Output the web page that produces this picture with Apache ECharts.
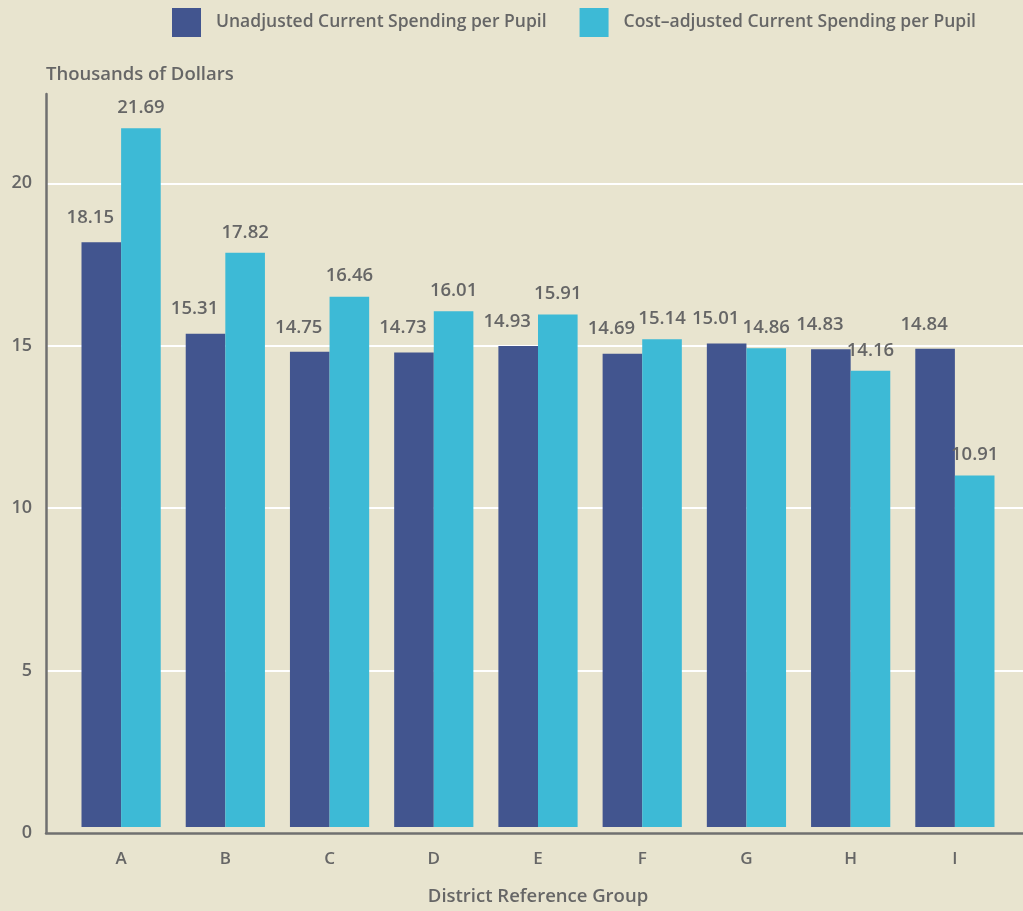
<!DOCTYPE html>
<html>
<head>
<meta charset="utf-8">
<script src="https://cdn.jsdelivr.net/npm/echarts@6/dist/echarts.min.js"></script>
<style>
html,body{margin:0;padding:0;background:#e8e4cf;}
#chart{width:1023px;height:911px;}
</style>
</head>
<body>
<div id="chart"></div>
<script>
const categories = ['A','B','C','D','E','F','G','H','I'];
const unadjusted = [18.15, 15.31, 14.75, 14.73, 14.93, 14.69, 15.01, 14.83, 14.84];
const costAdjusted = [21.69, 17.82, 16.46, 16.01, 15.91, 15.14, 14.86, 14.16, 10.91];
const yTicks = [0, 5, 10, 15, 20];
const seriesNames = ['Unadjusted Current Spending per Pupil', 'Cost\u2013adjusted Current Spending per Pupil'];

const FONT = '"Open Sans", "Noto Sans", sans-serif';
const TXT = '#666666';
const YMAX = 22.75;

const chart = echarts.init(document.getElementById('chart'), null, {renderer: 'canvas'});
chart.setOption({
  backgroundColor: '#e8e4cf',
  animation: false,
  textStyle: {fontFamily: FONT},
  title: {
    text: 'Thousands of Dollars',
    left: 41, top: 60,
    textStyle: {fontFamily: FONT, fontSize: 18.5, fontWeight: 600, color: TXT}
  },
  legend: {
    left: 172, top: 8, padding: 0,
    itemWidth: 29, itemHeight: 29, itemGap: 33,
    icon: 'rect',
    textStyle: {fontFamily: FONT, fontSize: 17.5, fontWeight: 600, color: TXT, padding: [4, 0, 0, 10]},
    data: seriesNames
  },
  grid: [
    {left: 46, right: 0, top: 94, bottom: 78},
    {left: 69, right: 16, top: 94, bottom: 78}
  ],
  xAxis: [
    {
      type: 'category', gridIndex: 0, data: categories,
      axisLine: {show: true, lineStyle: {color: '#707070', width: 2.5}},
      axisTick: {show: false}, axisLabel: {show: false}, splitLine: {show: false}
    },
    {
      type: 'category', gridIndex: 1, data: categories,
      axisLine: {show: false}, axisTick: {show: false},
      axisLabel: {fontFamily: FONT, fontSize: 17, fontWeight: 600, color: TXT, margin: 24},
      name: 'District Reference Group', nameLocation: 'middle', nameGap: 60,
      nameTextStyle: {fontFamily: FONT, fontSize: 18.5, fontWeight: 600, color: TXT}
    }
  ],
  yAxis: [
    {
      type: 'value', gridIndex: 0, min: 0, max: YMAX, interval: 5,
      axisLine: {show: true, lineStyle: {color: '#707070', width: 2.5}},
      axisTick: {show: false},
      axisLabel: {
        fontFamily: FONT, fontSize: 18, fontWeight: 600, color: TXT, margin: 14,
        showMaxLabel: false,
        formatter: v => (yTicks.indexOf(v) >= 0 ? String(v) : '')
      },
      splitLine: {show: true, showMinLine: false, showMaxLine: false, lineStyle: {color: '#ffffff', width: 2}}
    },
    {
      type: 'value', gridIndex: 1, min: 0, max: YMAX, interval: 5,
      axisLine: {show: false}, axisTick: {show: false}, axisLabel: {show: false}, splitLine: {show: false}
    }
  ],
  series: [
    {
      name: seriesNames[0], type: 'bar', xAxisIndex: 1, yAxisIndex: 1,
      data: unadjusted, barGap: '0%', barCategoryGap: '24%',
      itemStyle: {color: '#42558f'},
      label: {show: true, position: 'top', distance: 15, offset: [-11, 0], fontFamily: FONT, fontSize: 18.5, fontWeight: 600, color: TXT,
        formatter: p => p.value.toFixed(2)}
    },
    {
      name: seriesNames[1], type: 'bar', xAxisIndex: 1, yAxisIndex: 1,
      data: costAdjusted, barGap: '0%', barCategoryGap: '24%',
      itemStyle: {color: '#3dbad6'},
      label: {show: true, position: 'top', distance: 11, fontFamily: FONT, fontSize: 18.5, fontWeight: 600, color: TXT,
        formatter: p => p.value.toFixed(2)}
    }
  ]
});
</script>
</body>
</html>
